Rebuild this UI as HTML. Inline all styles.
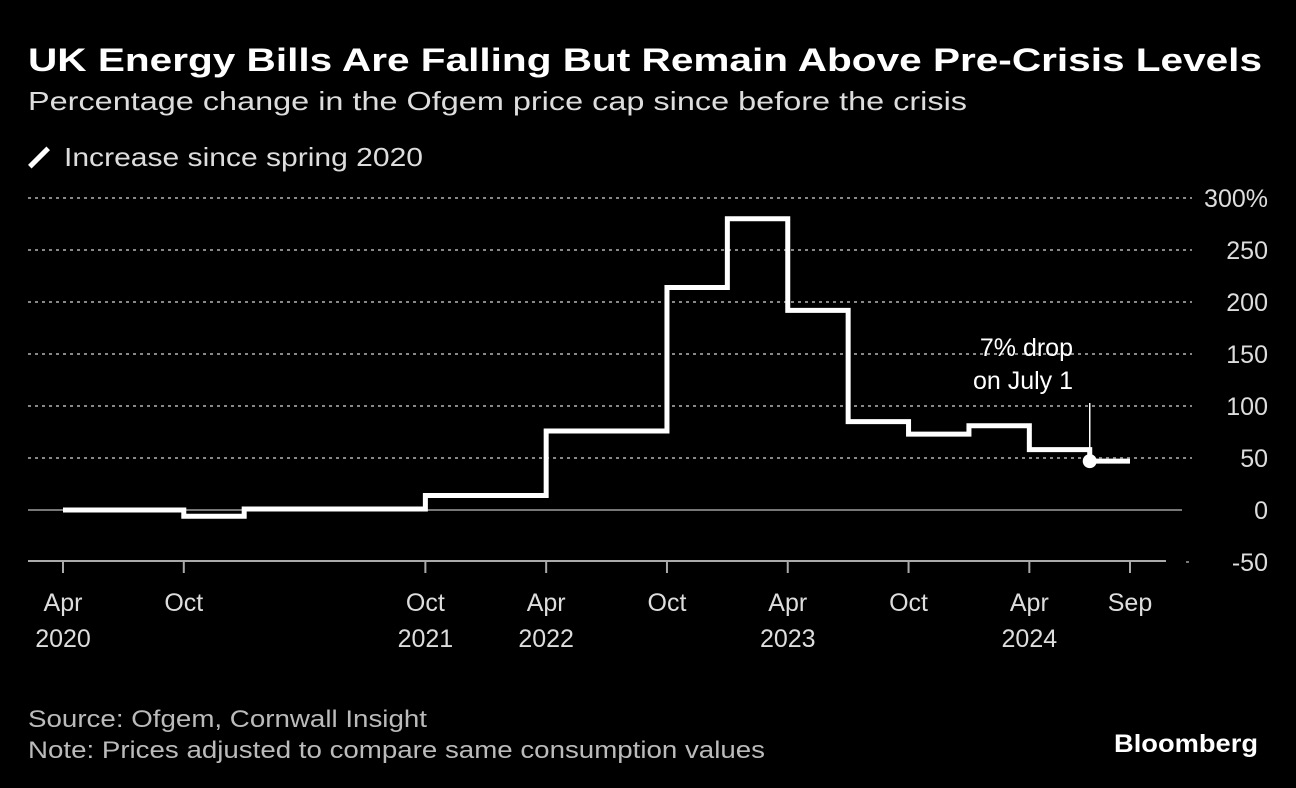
<!DOCTYPE html>
<html><head><meta charset="utf-8"><style>
body{margin:0;background:#000;width:1296px;height:788px;overflow:hidden;font-family:"Liberation Sans",sans-serif;color:#fff}
.t{position:absolute;white-space:nowrap}
.f{display:inline-block;transform-origin:0 50%;white-space:nowrap}
</style></head><body>
<div class="t" style="left:28px;top:42px;font-size:32px;font-weight:bold;"><span class="f" data-w="1234">UK Energy Bills Are Falling But Remain Above Pre-Crisis Levels</span></div>
<div class="t" style="left:28px;top:86px;font-size:26px;color:#ddd"><span class="f" data-w="939">Percentage change in the Ofgem price cap since before the crisis</span></div>
<div class="t" style="left:28px;top:142px;font-size:26px;color:#ddd"><span style="display:inline-block;width:26px;height:5px;background:#fff;transform:rotate(-45deg);vertical-align:middle;margin:0 12px 4px -2px"></span><span class="f" data-w="359">Increase since spring 2020</span></div>
<svg id="ch" width="1296" height="700" style="position:absolute;left:0;top:0" font-family="Liberation Sans, sans-serif"></svg>
<div class="t" style="left:28px;top:704px;font-size:24px;color:#bbb;line-height:31px"><span class="f" data-w="399">Source: Ofgem, Cornwall Insight</span><br><span class="f" data-w="737">Note: Prices adjusted to compare same consumption values</span></div>
<div class="t" style="left:1114px;top:730px;font-size:25px;font-weight:bold"><span class="f" data-w="144">Bloomberg</span></div>
<script>
const startMonths=[0,6,9,18,24,30,33,36,39,42,45,48,51];
const values=[0,-6,1,14,76,214,280,192,85,73,81,58,47];
const endMonth=53;
const yTicks=[300,250,200,150,100,50,0,-50];
const xTickMonths=[0,6,18,24,30,36,42,48,53];
const xTickLabels=[["Apr","2020"],["Oct",""],["Oct","2021"],["Apr","2022"],["Oct",""],["Apr","2023"],["Oct",""],["Apr","2024"],["Sep",""]];
const NS="http://www.w3.org/2000/svg";
const svg=document.getElementById('ch');
const X=m=>63+m*(1130-63)/53;
const Y=v=>510-v*1.04;
function el(t,a){const e=document.createElementNS(NS,t);for(const k in a)e.setAttribute(k,a[k]);svg.appendChild(e);return e;}
yTicks.forEach(v=>{
  let l;
  if(v===0){l=el('line',{x1:28,x2:1182,y1:Y(v),y2:Y(v),stroke:'#777','stroke-width':2});}
  else if(v===-50){l=el('line',{x1:1186,x2:1192,y1:Y(v),y2:Y(v),stroke:'#777','stroke-width':2,'stroke-dasharray':'3 4'});}
  else{l=el('line',{x1:28,x2:1192,y1:Y(v),y2:Y(v),stroke:'#888','stroke-width':2,'stroke-dasharray':'3 4'});}
  
  
  const t=el('text',{x:1268,y:Y(v)+9,'text-anchor':'end','font-size':25,fill:'#ddd'});
  t.textContent=v+(v===300?'%':'');
  
  
});
const ax=el('line',{x1:28,x2:1166,y1:561,y2:561,stroke:'#aaa','stroke-width':2});


xTickMonths.forEach((m,i)=>{
  const tk=el('line',{x1:X(m),x2:X(m),y1:561,y2:573,stroke:'#aaa','stroke-width':2});
  
  
  xTickLabels[i].forEach((s,j)=>{if(!s)return;
    const t=el('text',{x:X(m),y:611+j*36,'text-anchor':'middle','font-size':25,fill:'#ddd'});
    t.textContent=s;
    
    
  });
});
let d='';
values.forEach((v,i)=>{const x0=X(startMonths[i]),x1=X(i+1<startMonths.length?startMonths[i+1]:endMonth);
  d+=(i?'L':'M')+x0+' '+Y(v)+' L'+x1+' '+Y(v)+' ';});
const p=el('path',{d:d,fill:'none',stroke:'#fff','stroke-width':5,'stroke-linejoin':'miter'});


const li=values.length-1;
const ann=el('line',{x1:X(startMonths[li]),x2:X(startMonths[li]),y1:403,y2:Y(values[li]),stroke:'#fff','stroke-width':1.5});


const dot=el('circle',{cx:X(startMonths[li]),cy:Y(values[li]),r:7,fill:'#fff'});


[["7% drop",356],["on July 1",389]].forEach(a=>{
  const t=el('text',{x:1073,y:a[1],'text-anchor':'end','font-size':25,fill:'#fff'});
  t.textContent=a[0];
  
  
});
document.querySelectorAll('.f').forEach(s=>{const w=s.getBoundingClientRect().width;if(w>0)s.style.transform='scaleX('+(+s.dataset.w/w)+')';});
</script>
</body></html>
